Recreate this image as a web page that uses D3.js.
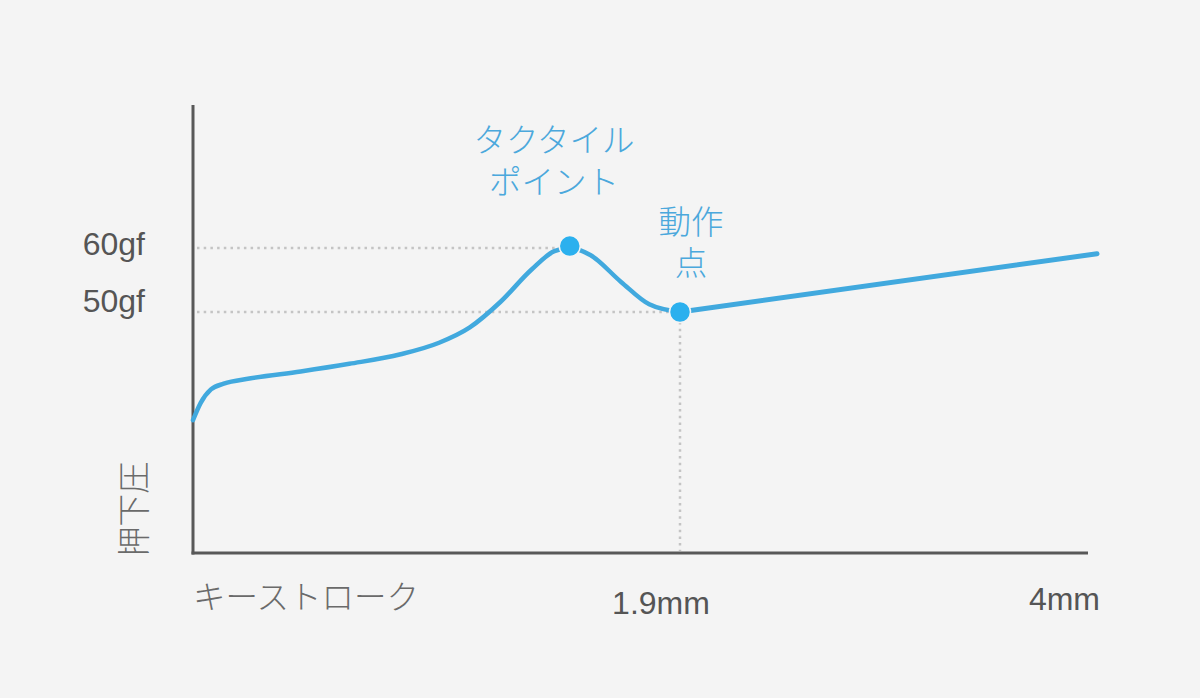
<!DOCTYPE html>
<html>
<head>
  <meta charset="utf-8">
  <title>キーストロークと押下圧</title>
  <script src="https://d3js.org/d3.v7.min.js"></script>
  <style>
    body {
      margin: 0;
      padding: 0;
      background-color: #f4f4f4;
    }
    .num {
      font-family: "Liberation Sans", Arial, sans-serif;
      font-size: 32px;
      fill: #555;
    }
    .jp {
      font-family: "Noto Sans CJK JP", sans-serif;
      font-weight: 300;
      font-size: 32.5px;
    }
    .grid {
      stroke: #c4c4c4;
      stroke-width: 2.5;
      stroke-dasharray: 2.5,4.2;
    }
  </style>
</head>
<body>
  <div id="chart"></div>
  <script>
    // key stroke (mm) vs force (gf)
    var curveStroke = [0, 0.03, 0.07, 0.12, 0.22, 0.42, 0.61, 0.81, 0.96, 1.08, 1.2, 1.32, 1.41, 1.47, 1.55, 1.67, 1.78, 1.9];
    var curveForce  = [33.1, 35.8, 37.9, 38.8, 39.6, 40.7, 41.9, 43.4, 45.2, 47.6, 51.6, 56.6, 59.5, 60.0, 58.9, 54.7, 51.2, 50];
    var lineStroke = [1.9, 4];
    var lineForce  = [50, 59.1];

    // marked points
    var markStroke = [1.47, 1.9];
    var markForce  = [60.3, 50];

    var forceTicks = [60, 50];
    var strokeTicks = [1.9, 4];

    var width = 1200, height = 698;

    var svg = d3.select("#chart")
      .append("svg")
        .attr("width", width)
        .attr("height", height);

    // stroke axis is not drawn to scale in the original: 1.9mm sits right of centre
    var x = d3.scaleLinear()
        .domain([0, 1.9, 4])
        .range([193, 680, 1097]);

    var y = d3.scaleLinear()
        .domain([50, 60])
        .range([312, 248]);

    var yBottom = 553, yTop = 105, xEnd = 1088;

    // dotted guide lines
    svg.selectAll(".hgrid")
        .data(forceTicks)
      .enter().append("line")
        .attr("class", "grid")
        .attr("x1", x(0) + 4)
        .attr("x2", function(d, i) { return x(markStroke[i === 0 ? 0 : 1]); })
        .attr("y1", function(d) { return y(d); })
        .attr("y2", function(d) { return y(d); });

    svg.append("line")
        .attr("class", "grid")
        .attr("x1", x(1.9))
        .attr("x2", x(1.9))
        .attr("y1", y(50) + 10)
        .attr("y2", yBottom - 2);

    // axes
    svg.append("line")
        .attr("x1", x(0)).attr("x2", x(0))
        .attr("y1", yTop).attr("y2", yBottom + 1.5)
        .attr("stroke", "#585858").attr("stroke-width", 3);
    svg.append("line")
        .attr("x1", x(0) - 1.5).attr("x2", xEnd)
        .attr("y1", yBottom).attr("y2", yBottom)
        .attr("stroke", "#585858").attr("stroke-width", 3);

    // force curve
    var curveData = curveStroke.map(function(d, i) { return [d, curveForce[i]]; });
    var lineData = lineStroke.map(function(d, i) { return [d, lineForce[i]]; });

    var line = d3.line()
        .x(function(d) { return x(d[0]); })
        .y(function(d) { return y(d[1]); })
        .curve(d3.curveMonotoneX);

    svg.append("path")
        .datum(curveData)
        .attr("d", line)
        .attr("fill", "none")
        .attr("stroke", "#41a9de")
        .attr("stroke-width", 4.5)
        .attr("stroke-linecap", "round");

    svg.append("path")
        .datum(lineData)
        .attr("d", d3.line().x(function(d) { return x(d[0]); }).y(function(d) { return y(d[1]); }))
        .attr("fill", "none")
        .attr("stroke", "#41a9de")
        .attr("stroke-width", 5)
        .attr("stroke-linecap", "round");

    svg.selectAll(".mark")
        .data(markStroke)
      .enter().append("circle")
        .attr("class", "mark")
        .attr("cx", function(d) { return x(d); })
        .attr("cy", function(d, i) { return y(markForce[i]); })
        .attr("r", 10.5)
        .attr("fill", "#2bb0ee")
        .attr("stroke", "#f4f4f4")
        .attr("stroke-width", 1.5);

    // force labels
    var yOffsets = [7, 0];
    svg.selectAll(".ylab")
        .data(forceTicks)
      .enter().append("text")
        .attr("class", "num")
        .attr("x", 145)
        .attr("y", function(d, i) { return y(d) + yOffsets[i]; })
        .style("text-anchor", "end")
        .text(function(d) { return d + "gf"; });

    // stroke labels
    svg.append("text")
        .attr("class", "num")
        .attr("x", x(strokeTicks[0]) - 19)
        .attr("y", 614)
        .style("text-anchor", "middle")
        .text(strokeTicks[0] + "mm");
    svg.append("text")
        .attr("class", "num")
        .attr("x", x(strokeTicks[1]) + 3)
        .attr("y", 610)
        .style("text-anchor", "end")
        .text(strokeTicks[1] + "mm");

    // axis titles
    svg.append("text")
        .attr("class", "jp")
        .attr("x", x(0))
        .attr("y", 609)
        .attr("fill", "#6a6a6a")
        .text("キーストローク");

    svg.append("defs").append("clipPath").attr("id", "clipY")
      .append("rect").attr("x", 100).attr("y", 400).attr("width", 60).attr("height", yBottom - 400);

    svg.append("g")
        .attr("clip-path", "url(#clipY)")
      .append("text")
        .attr("class", "jp")
        .attr("transform", "translate(146," + (yBottom + 6) + ") rotate(-90)")
        .attr("fill", "#6a6a6a")
        .text("押下圧");

    // annotations, two lines each
    var notes = [
      { lines: ["タクタイル", "ポイント"], cx: 554, y0: 152, dy: 42 },
      { lines: ["動作", "点"], cx: 691, y0: 234, dy: 41 }
    ];
    notes.forEach(function(n) {
      var t = svg.append("text")
          .attr("class", "jp")
          .attr("x", n.cx)
          .attr("y", n.y0)
          .attr("fill", "#4ba8dc")
          .style("text-anchor", "middle");
      t.selectAll("tspan")
          .data(n.lines)
        .enter().append("tspan")
          .attr("x", n.cx)
          .attr("dy", function(d, i) { return i === 0 ? 0 : n.dy; })
          .text(function(d) { return d; });
    });
  </script>
</body>
</html>
